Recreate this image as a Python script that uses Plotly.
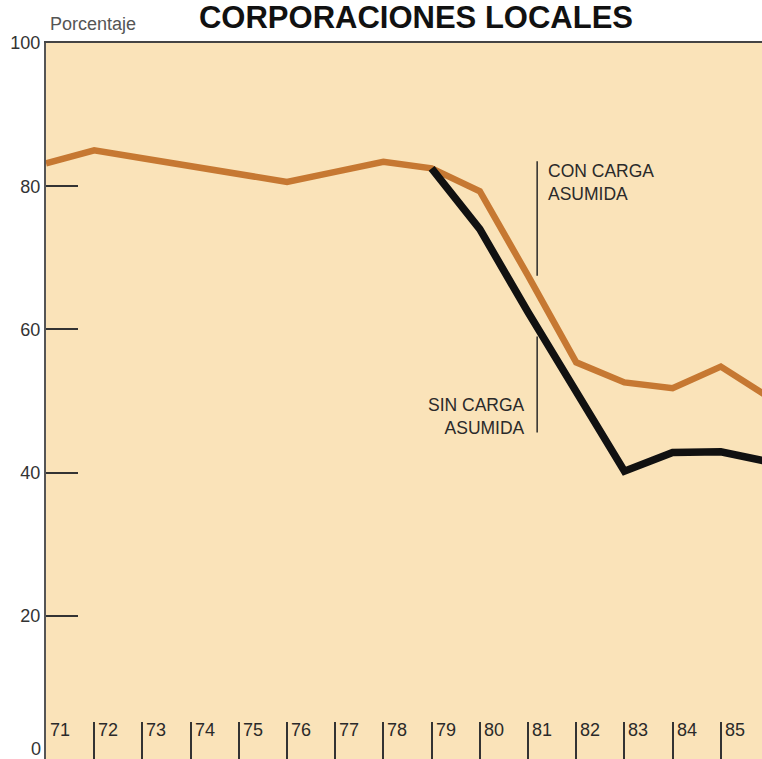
import plotly.graph_objects as go

# ---- data ----
years = [71, 72, 73, 74, 75, 76, 77, 78, 79, 80, 81, 82, 83, 84, 85, 86]
con_carga = [83.2, 85.0, 83.9, 82.8, 81.7, 80.6, 82.0, 83.4, 82.5, 79.3, 67.5, 55.4, 52.6, 51.8, 54.8, 50.5]
sin_years = [79, 80, 81, 82, 83, 84, 85, 86]
sin_carga = [82.5, 74.0, 62.4, 51.2, 40.2, 42.8, 42.9, 41.5]
tick_years = [71, 72, 73, 74, 75, 76, 77, 78, 79, 80, 81, 82, 83, 84, 85]
tick_labels = ["71", "72", "73", "74", "75", "76", "77", "78", "79", "80", "81", "82", "83", "84", "85"]
y_ticks = [0, 20, 40, 60, 80, 100]

FONT = "Liberation Sans, Arial, sans-serif"
ORANGE = "#c67832"
BLACK = "#111111"
TXT = "#2a2a2a"

fig = go.Figure()
fig.add_trace(go.Scatter(x=years, y=con_carga, mode="lines",
                         line=dict(color=ORANGE, width=6.5), showlegend=False,
                         hoverinfo="skip"))
fig.add_trace(go.Scatter(x=sin_years, y=sin_carga, mode="lines",
                         line=dict(color=BLACK, width=7.5), showlegend=False,
                         hoverinfo="skip"))

annotations = []
for yv, lab in zip(tick_years, tick_labels):
    annotations.append(dict(x=yv, y=(759 - 730) / 716, xref="x", yref="paper",
                            text=lab, showarrow=False, xanchor="left", yanchor="middle",
                            xshift=2, font=dict(family=FONT, size=18, color=TXT)))

# bottom y label (sits on the lower edge)
annotations.append(dict(x=0, y=y_ticks[0], xref="paper", yref="y", text=str(y_ticks[0]),
                        showarrow=False, xanchor="right", yanchor="bottom", xshift=-3,
                        yshift=-2, font=dict(family=FONT, size=18, color="#333333")))

# series labels
annotations += [
    dict(x=81.37, y=80.5, xref="x", yref="y", text="CON CARGA<br>ASUMIDA", showarrow=False,
         xanchor="left", yanchor="middle", align="left",
         font=dict(family=FONT, size=17.5, color=TXT)),
    dict(x=80.98, y=47.85, xref="x", yref="y", text="SIN CARGA<br>ASUMIDA", showarrow=False,
         xanchor="right", yanchor="middle", align="right",
         font=dict(family=FONT, size=17.5, color=TXT)),
    dict(x=2 / 716, y=1 + (43 - 24) / 716, xref="paper", yref="paper", text="Porcentaje",
         showarrow=False, xanchor="left", yanchor="middle",
         font=dict(family=FONT, size=18, color="#555555")),
]

shapes = [
    dict(type="line", xref="x", yref="y", x0=81.19, x1=81.19, y0=83.5, y1=67.5,
         line=dict(color=TXT, width=1.5)),
    dict(type="line", xref="x", yref="y", x0=81.19, x1=81.19, y0=59.0, y1=45.6,
         line=dict(color=TXT, width=1.5)),
]

fig.update_layout(
    width=762, height=759, autosize=False,
    margin=dict(l=46, r=0, t=43, b=0, pad=0),
    paper_bgcolor="#ffffff", plot_bgcolor="#fae3b9",
    title=dict(text="<b>CORPORACIONES LOCALES</b>", x=416 / 762, xanchor="center",
               xref="container", yref="container", y=1 - 17 / 759, yanchor="middle",
               font=dict(family=FONT, size=31, color="#111111")),
    xaxis=dict(range=[71, 71 + 716 / 48.2], showgrid=False, zeroline=False,
               tickvals=tick_years, showticklabels=False, ticks="inside", ticklen=37,
               tickwidth=1.5, tickcolor="#333333", showline=True, linecolor="#444444",
               linewidth=1.5, mirror=True),
    yaxis=dict(range=[0, 100], showgrid=False, zeroline=False, tickvals=y_ticks[1:],
               ticks="inside", ticklen=32, tickwidth=1.5, tickcolor="#333333",
               showline=True, linecolor="#555555", linewidth=2,
               tickfont=dict(family=FONT, size=18, color="#333333")),
    annotations=annotations, shapes=shapes,
)

fig.write_html("out.html", config={"displayModeBar": False},
               post_script="document.body.style.margin='0';document.body.style.overflow='hidden';")
